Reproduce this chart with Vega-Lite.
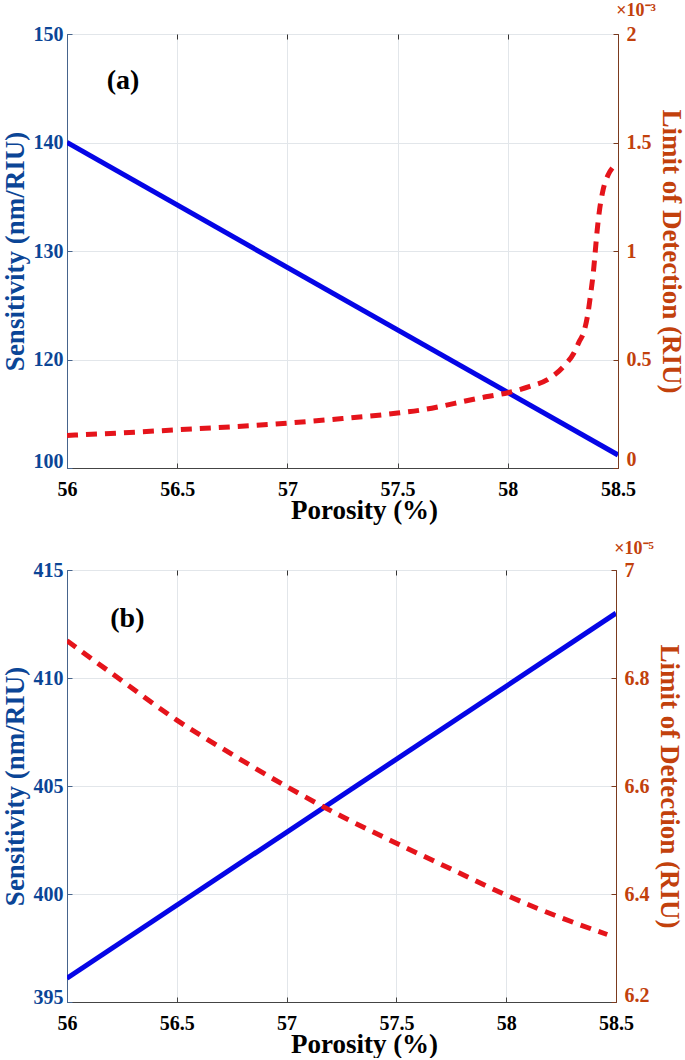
{
  "$schema": "https://vega.github.io/schema/vega-lite/v6.json",
  "padding": {"left": 0, "top": 1, "right": 0, "bottom": 0},
  "background": "white",
  "config": {
    "font": "Liberation Serif",
    "view": {"stroke": "#3a3a3a", "strokeWidth": 1},
    "axis": {
      "labelFont": "Liberation Serif", "labelFontWeight": "bold", "labelFontSize": 20,
      "titleFont": "Liberation Serif", "titleFontWeight": "bold", "titleFontSize": 27,
      "labelOverlap": false, "labelFlush": false
    },
    "title": {"font": "Liberation Serif", "fontWeight": "bold"}
  },
  "datasets": {
    "sa": [{"p": 56, "s": 140}, {"p": 58.5, "s": 111.2}],
    "la": [
      {"p": 56.0, "l": 0.150}, {"p": 56.25, "l": 0.162}, {"p": 56.5, "l": 0.176}, {"p": 56.75, "l": 0.190},
      {"p": 57.0, "l": 0.207}, {"p": 57.25, "l": 0.228}, {"p": 57.5, "l": 0.253}, {"p": 57.6, "l": 0.266},
      {"p": 57.7, "l": 0.285}, {"p": 57.8, "l": 0.307}, {"p": 57.9, "l": 0.328}, {"p": 58.0, "l": 0.347},
      {"p": 58.1, "l": 0.376}, {"p": 58.18, "l": 0.407}, {"p": 58.255, "l": 0.47}, {"p": 58.3, "l": 0.53},
      {"p": 58.323, "l": 0.58}, {"p": 58.346, "l": 0.63}, {"p": 58.364, "l": 0.715}, {"p": 58.377, "l": 0.81},
      {"p": 58.388, "l": 0.9}, {"p": 58.397, "l": 1.0}, {"p": 58.405, "l": 1.09}, {"p": 58.415, "l": 1.18},
      {"p": 58.432, "l": 1.28}, {"p": 58.455, "l": 1.35}, {"p": 58.48, "l": 1.39}
    ],
    "sb": [{"p": 56, "s": 396.1}, {"p": 58.5, "s": 413}],
    "lb": [
      {"p": 56.0, "l": 6.869}, {"p": 56.25, "l": 6.795}, {"p": 56.5, "l": 6.722}, {"p": 56.75, "l": 6.659},
      {"p": 57.0, "l": 6.599}, {"p": 57.25, "l": 6.544}, {"p": 57.5, "l": 6.494}, {"p": 57.75, "l": 6.446},
      {"p": 58.0, "l": 6.398}, {"p": 58.25, "l": 6.356}, {"p": 58.46, "l": 6.325}
    ],
    "ta": [{"p": 56.254, "s": 145.7, "label": "(a)"}],
    "tb": [{"p": 56.275, "s": 412.74, "label": "(b)"}]
  },
  "vconcat": [
    {
      "width": 551, "height": 434,
      "title": {"text": "×10⁻³", "anchor": "end", "frame": "group", "dx": 38, "offset": 4, "color": "#c2410c", "fontSize": 18},
      "resolve": {"scale": {"y": "independent"}, "axis": {"x": "independent"}},
      "layer": [
        {
          "encoding": {
            "x": {"field": "p", "type": "quantitative",
              "scale": {"domain": [56, 58.5], "nice": false, "zero": false},
              "axis": {"values": [56, 56.5, 57, 57.5, 58, 58.5], "format": "~g", "title": "Porosity (%)",
                "labelFont": "Liberation Serif", "titleFont": "Liberation Serif", "titleX": 297,
                "labelColor": "#000", "titleColor": "#000", "grid": true, "gridColor": "#e2e6ea",
                "domainColor": "#444", "tickColor": "#444", "tickSize": -5, "labelPadding": 16, "titlePadding": -2}},
            "y": {"field": "s", "type": "quantitative",
              "scale": {"domain": [110, 150], "nice": false, "zero": false},
              "axis": {"values": [110, 120, 130, 140, 150], "labelExpr": "datum.value == 110 ? '100' : datum.label",
                "labelFont": "Liberation Serif", "titleFont": "Liberation Serif",
                "title": "Sensitivity (nm/RIU)", "titleColor": "#0b4596", "labelColor": "#0b4596",
                "domainColor": "#46648c", "tickColor": "#46648c", "tickSize": -5, "labelPadding": 9,
                "grid": true, "gridColor": "#e2e6ea", "titlePadding": 4,
                "labelOffset": {"condition": {"test": "datum.value == 110", "value": -7}, "value": 0}}}
          },
          "layer": [
            {"data": {"name": "sa"}, "mark": {"type": "line", "color": "#0505e6", "strokeWidth": 5, "clip": true}},
            {"data": {"name": "ta"}, "mark": {"type": "text", "fontSize": 28, "fontWeight": "bold", "font": "Liberation Serif", "color": "#000", "align": "center", "baseline": "middle"},
              "encoding": {"text": {"field": "label"}}}
          ]
        },
        {
          "data": {"name": "la"},
          "mark": {"type": "line", "color": "#e5141b", "strokeWidth": 5, "strokeDash": [11, 8], "interpolate": "monotone", "clip": true},
          "encoding": {
            "x": {"field": "p", "type": "quantitative",
              "scale": {"domain": [56, 58.5], "nice": false, "zero": false},
              "axis": {"orient": "top", "values": [56, 56.5, 57, 57.5, 58, 58.5], "labels": false, "domain": false, "grid": false, "tickSize": -5, "tickColor": "#333", "title": null}},
            "y": {"field": "l", "type": "quantitative",
              "scale": {"domain": [0, 2], "nice": false, "zero": false},
              "axis": {"orient": "right", "values": [0, 0.5, 1, 1.5, 2], "format": "~g",
                "labelFont": "Liberation Serif", "titleFont": "Liberation Serif",
                "title": "Limit of Detection (RIU)", "titleColor": "#c2410c", "labelColor": "#c2410c",
                "domainColor": "#7b3a1e", "tickColor": "#7b3a1e", "tickSize": -5, "labelPadding": 13,
                "grid": false, "titlePadding": 5,
                "labelOffset": {"condition": {"test": "datum.value == 0", "value": -9}, "value": 0}}}
          }
        }
      ]
    },
    {
      "width": 549, "height": 432,
      "title": {"text": "×10⁻⁵", "anchor": "end", "frame": "group", "dx": 38, "offset": 2, "color": "#c2410c", "fontSize": 18},
      "resolve": {"scale": {"y": "independent"}, "axis": {"x": "independent"}},
      "layer": [
        {
          "encoding": {
            "x": {"field": "p", "type": "quantitative",
              "scale": {"domain": [56, 58.5], "nice": false, "zero": false},
              "axis": {"values": [56, 56.5, 57, 57.5, 58, 58.5], "format": "~g", "title": "Porosity (%)",
                "labelFont": "Liberation Serif", "titleFont": "Liberation Serif", "titleX": 297,
                "labelColor": "#000", "titleColor": "#000", "grid": true, "gridColor": "#e2e6ea",
                "domainColor": "#444", "tickColor": "#444", "tickSize": -5, "labelPadding": 16, "titlePadding": -2}},
            "y": {"field": "s", "type": "quantitative",
              "scale": {"domain": [395, 415], "nice": false, "zero": false},
              "axis": {"values": [395, 400, 405, 410, 415],
                "labelFont": "Liberation Serif", "titleFont": "Liberation Serif",
                "title": "Sensitivity (nm/RIU)", "titleColor": "#0b4596", "labelColor": "#0b4596",
                "domainColor": "#46648c", "tickColor": "#46648c", "tickSize": -5, "labelPadding": 9,
                "grid": true, "gridColor": "#e2e6ea", "titlePadding": 4,
                "labelOffset": {"condition": {"test": "datum.value == 395", "value": -5}, "value": 0}}}
          },
          "layer": [
            {"data": {"name": "sb"}, "mark": {"type": "line", "color": "#0505e6", "strokeWidth": 5, "clip": true}},
            {"data": {"name": "tb"}, "mark": {"type": "text", "fontSize": 28, "fontWeight": "bold", "font": "Liberation Serif", "color": "#000", "align": "center", "baseline": "middle"},
              "encoding": {"text": {"field": "label"}}}
          ]
        },
        {
          "data": {"name": "lb"},
          "mark": {"type": "line", "color": "#e5141b", "strokeWidth": 5, "strokeDash": [11, 8], "interpolate": "monotone", "clip": true},
          "encoding": {
            "x": {"field": "p", "type": "quantitative",
              "scale": {"domain": [56, 58.5], "nice": false, "zero": false},
              "axis": {"orient": "top", "values": [56, 56.5, 57, 57.5, 58, 58.5], "labels": false, "domain": false, "grid": false, "tickSize": -5, "tickColor": "#333", "title": null}},
            "y": {"field": "l", "type": "quantitative",
              "scale": {"domain": [6.2, 7], "nice": false, "zero": false},
              "axis": {"orient": "right", "values": [6.2, 6.4, 6.6, 6.8, 7], "format": "~g",
                "labelFont": "Liberation Serif", "titleFont": "Liberation Serif",
                "title": "Limit of Detection (RIU)", "titleColor": "#c2410c", "labelColor": "#c2410c",
                "domainColor": "#7b3a1e", "tickColor": "#7b3a1e", "tickSize": -5, "labelPadding": 13,
                "grid": false, "titlePadding": 5,
                "labelOffset": {"condition": {"test": "datum.value == 6.2", "value": -7}, "value": 0}}}
          }
        }
      ]
    }
  ],
  "spacing": 15
}
